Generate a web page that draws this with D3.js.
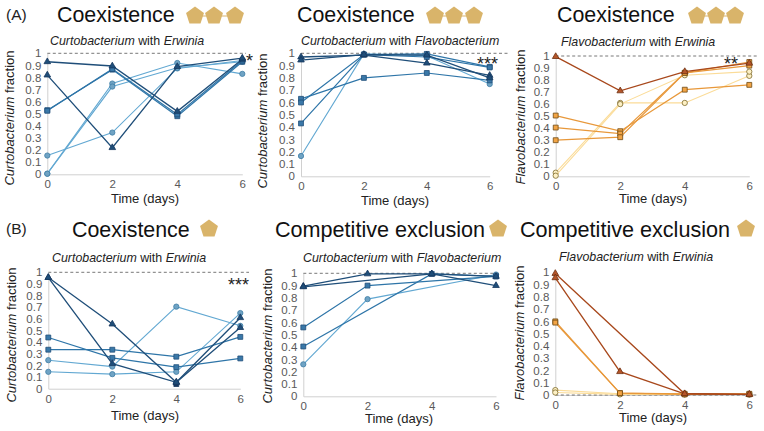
<!DOCTYPE html>
<html lang="en">
  <head>
    <meta charset="utf-8" />
    <title>Coexistence panels</title>
    <script src="https://d3js.org/d3.v7.min.js"></script>
    <style>
      body { margin: 0; background: #fff; }
      text { font-family: "Liberation Sans", Arial, sans-serif; }
      .tick text { fill: #595959; font-size: 11.5px; }
      .tick line { display: none; }
      .domain { stroke: #d0d0d0; }
    </style>
  </head>
  <body>
    <svg id="fig" width="764" height="431"></svg>
    <script>
      var days = [0, 2, 4, 6];
      var fractionTicks = [0, 0.1, 0.2, 0.3, 0.4, 0.5, 0.6, 0.7, 0.8, 0.9, 1];

      // null = no marker that day, the line just carries on to the next one
      var a1Tri1 = [0.93, 0.895, 0.52, 0.95];
      var a1Tri2 = [0.82, 0.22, 0.89, 0.96];
      var a1Sq1 = [0.53, 0.865, 0.48, 0.93];
      var a1Sq2 = [0.525, 0.87, 0.495, 0.94];
      var a1Ci1 = [0.155, 0.345, 0.875, 0.94];
      var a1Ci2 = [0.005, 0.75, 0.92, 0.83];
      var a1Ci3 = [0.005, 0.725, 0.88, 0.93];

      var a2Tri1 = [0.97, 0.985, 0.92, 0.82];
      var a2Tri2 = [0.945, 0.99, 0.985, 0.80];
      var a2Sq1 = [0.63, 0.80, 0.84, 0.78];
      var a2Sq2 = [0.60, 0.99, 0.995, 0.89];
      var a2Sq3 = [0.43, 0.99, 0.97, 0.885];
      var a2Ci1 = [0.165, 0.995, 0.98, 0.75];

      var a3Tri1 = [0.995, 0.71, 0.87, 0.94];
      var a3Sq1 = [0.505, 0.375, 0.72, 0.76];
      var a3Sq2 = [0.405, 0.355, 0.86, 0.95];
      var a3Sq3 = [0.30, 0.325, 0.86, 0.92];
      var a3Ci1 = [0.03, 0.61, 0.61, 0.835];
      var a3Ci2 = [0.005, 0.60, 0.84, 0.87];

      var b1Tri1 = [0.955, 0.555, 0.055, 0.61];
      var b1Tri2 = [0.955, 0.215, 0.055, 0.525];
      var b1Sq1 = [0.44, 0.265, 0.185, 0.26];
      var b1Sq2 = [0.335, 0.335, 0.275, 0.445];
      var b1Sq3 = [null, null, 0.04, null];
      var b1Ci1 = [0.245, 0.19, 0.705, 0.54];
      var b1Ci2 = [0.145, 0.125, 0.145, 0.65];

      var b2Tri1 = [0.895, 0.995, 0.995, 0.90];
      var b2Tri2 = [0.89, null, 0.995, 0.975];
      var b2Sq1 = [0.56, 0.90, null, 0.975];
      var b2Sq2 = [0.405, null, 0.995, 0.975];
      var b2Ci1 = [0.26, 0.79, null, 0.99];

      var b3Tri1 = [0.99, null, 0.01, 0.005];
      var b3Tri2 = [0.955, 0.19, 0.01, 0.005];
      var b3Sq1 = [0.60, 0.015, 0.01, 0.01];
      var b3Sq2 = [0.59, 0.015, 0.005, 0.005];
      var b3Ci1 = [0.04, 0.01, 0.005, 0.005];
      var b3Ci2 = [0.02, 0.005, 0.005, 0.005];

      var blue = {
        tri: { line: "#1f4e79", fill: "#1f4e79", stroke: "#17375e", lw: 1.3 },
        sq: { line: "#2e75a8", fill: "#3a78a8", stroke: "#1f4e79", lw: 1.2 },
        sqDark: { line: "#1f4e79", fill: "#17375e", stroke: "#17375e", lw: 1.2 },
        ci: { line: "#62a8d2", fill: "#6fa3c4", stroke: "#3f7ea6", lw: 1.1 }
      };
      var orange = {
        tri: { line: "#a8481c", fill: "#b5562a", stroke: "#6e3010", lw: 1.3 },
        sq: { line: "#e8983a", fill: "#f2a445", stroke: "#6e4a14", lw: 1.2 },
        ci: { line: "#fbdc98", fill: "#fdf0c4", stroke: "#7d6a2c", lw: 1.1 }
      };

      var panels = [
        { title: "Coexistence", titleX: 57, titleY: 22, subX: 50, subY: 45, sub: ["Curtobacterium", " with ", "Erwinia"], yLabel: "Curtobacterium", yLabelX: 14, yLabelY: 118,
          x: [47.3, 242.3], y: [174.3, 53.3], pal: blue, xLabelX: 145, xLabelY: 203, dashEnd: 246, star: "*", starX: 253, starY: 67, pent: [[195, 16], [214, 16], [235, 16]],
          series: [["ci", a1Ci1], ["ci", a1Ci2], ["ci", a1Ci3], ["sq", a1Sq1], ["sq", a1Sq2], ["tri", a1Tri1], ["tri", a1Tri2]] },
        { title: "Coexistence", titleX: 297, titleY: 22, subX: 301, subY: 45, sub: ["Curtobacterium", " with ", "Flavobacterium"], yLabel: "Curtobacterium", yLabelX: 267, yLabelY: 121,
          x: [301, 489.7], y: [176.3, 53.3], pal: blue, xLabelX: 395, xLabelY: 205, dashEnd: 510, star: "***", starX: 498, starY: 70, pent: [[435, 16], [454, 16], [474, 16]],
          series: [["ci", a2Ci1], ["sq", a2Sq1], ["sq", a2Sq2], ["sq", a2Sq3], ["tri", a2Tri1], ["tri", a2Tri2]] },
        { title: "Coexistence", titleX: 557, titleY: 22, subX: 561, subY: 46, sub: ["Flavobacterium", " with ", "Erwinia"], yLabel: "Flavobacterium", yLabelX: 525, yLabelY: 117,
          x: [555.7, 749.3], y: [176.3, 56], pal: orange, xLabelX: 653, xLabelY: 203, dashEnd: 757, star: "**", starX: 738, starY: 70, pent: [[697, 16], [716, 16], [735, 16]],
          series: [["ci", a3Ci1], ["ci", a3Ci2], ["sq", a3Sq1], ["sq", a3Sq2], ["sq", a3Sq3], ["tri", a3Tri1]] },
        { title: "Coexistence", titleX: 72, titleY: 237, subX: 52, subY: 262, sub: ["Curtobacterium", " with ", "Erwinia"], yLabel: "Curtobacterium", yLabelX: 16, yLabelY: 335,
          x: [48.3, 240.3], y: [388.7, 272.3], pal: blue, xLabelX: 145, xLabelY: 420, dashEnd: 249, star: "***", starX: 249, starY: 291, pent: [[209, 229]],
          series: [["ci", b1Ci1], ["ci", b1Ci2], ["sq", b1Sq1], ["sq", b1Sq2], ["sqDark", b1Sq3], ["tri", b1Tri1], ["tri", b1Tri2]] },
        { title: "Competitive exclusion", titleX: 275, titleY: 237, subX: 303, subY: 262, sub: ["Curtobacterium", " with ", "Flavobacterium"], yLabel: "Curtobacterium", yLabelX: 272, yLabelY: 336,
          x: [303.3, 496], y: [396.3, 273.3], pal: blue, xLabelX: 399, xLabelY: 423, dashEnd: 500, star: "", pent: [[498, 229]],
          series: [["ci", b2Ci1], ["sq", b2Sq1], ["sq", b2Sq2], ["tri", b2Tri1], ["tri", b2Tri2]] },
        { title: "Competitive exclusion", titleX: 520, titleY: 237, subX: 559, subY: 261, sub: ["Flavobacterium", " with ", "Erwinia"], yLabel: "Flavobacterium", yLabelX: 524, yLabelY: 333,
          x: [555.3, 749.3], y: [395, 272.3], pal: orange, xLabelX: 653, xLabelY: 422, dashEnd: 757, dashAtZero: true, star: "", pent: [[746, 229]],
          series: [["ci", b3Ci1], ["ci", b3Ci2], ["sq", b3Sq1], ["sq", b3Sq2], ["tri", b3Tri1], ["tri", b3Tri2]] }
      ];

      var svg = d3.select("#fig");

      svg.append("text").attr("x", 6).attr("y", 20).attr("font-size", 15.5).attr("fill", "#222").text("(A)");
      svg.append("text").attr("x", 6).attr("y", 234).attr("font-size", 15.5).attr("fill", "#222").text("(B)");

      var shapes = {
        tri: d3.symbol().type(d3.symbolTriangle).size(19),
        sq: d3.symbol().type(d3.symbolSquare).size(24),
        sqDark: d3.symbol().type(d3.symbolSquare).size(24),
        ci: d3.symbol().type(d3.symbolCircle).size(22)
      };

      var pentagon = d3.line().curve(d3.curveLinearClosed);
      function pentPoints(cx, cy, r) {
        return d3.range(5).map(function(i) {
          var a = -Math.PI / 2 + i * 2 * Math.PI / 5;
          return [cx + r * Math.cos(a), cy + r * Math.sin(a)];
        });
      }

      panels.forEach(function(p) {
        var xScale = d3.scaleLinear().domain([0, 6]).range(p.x);
        var yScale = d3.scaleLinear().domain([0, 1]).range(p.y);
        var g = svg.append("g");

        // title and community icon
        g.append("text").attr("x", p.titleX).attr("y", p.titleY)
          .attr("font-size", p.title === "Coexistence" ? 21.4 : 21.6).attr("fill", "#111").text(p.title);
        if (p.pent.length > 1) {
          g.append("line")
            .attr("x1", p.pent[0][0]).attr("x2", p.pent[2][0])
            .attr("y1", p.pent[0][1]).attr("y2", p.pent[0][1])
            .attr("stroke", "#d9b46a").attr("stroke-width", 1.2);
        }
        p.pent.forEach(function(c) {
          g.append("path").attr("d", pentagon(pentPoints(c[0], c[1], 9.4))).attr("fill", "#d9b46a");
        });

        // subtitle, species names in italics
        var sub = g.append("text").attr("x", p.subX).attr("y", p.subY).attr("font-size", 12.4).attr("fill", "#222");
        p.sub.forEach(function(s, i) {
          sub.append("tspan").attr("font-style", i === 1 ? "normal" : "italic").attr("xml:space", "preserve").text(s);
        });

        // axes
        g.append("g").attr("transform", "translate(" + p.x[0] + ",0)")
          .call(d3.axisLeft(yScale).tickValues(fractionTicks).tickFormat(d3.format("~g")).tickSize(0).tickPadding(6));
        g.append("g").attr("transform", "translate(0," + p.y[0] + ")")
          .call(d3.axisBottom(xScale).tickValues(days).tickFormat(d3.format("d")).tickSize(0).tickPadding(6));

        g.append("text").attr("x", p.xLabelX).attr("y", p.xLabelY)
          .attr("text-anchor", "middle").attr("font-size", 13).attr("fill", "#222").text("Time (days)");

        var yl = g.append("text")
          .attr("transform", "translate(" + p.yLabelX + "," + p.yLabelY + ") rotate(-90)")
          .attr("text-anchor", "middle").attr("font-size", 13).attr("fill", "#222");
        yl.append("tspan").attr("font-style", "italic").text(p.yLabel);
        yl.append("tspan").text(" fraction");

        // dashed reference line
        var refY = p.dashAtZero ? yScale(0) : yScale(1);
        g.append("line").attr("x1", p.x[0]).attr("x2", p.dashEnd).attr("y1", refY).attr("y2", refY)
          .attr("stroke", "#555").attr("stroke-width", 0.8).attr("stroke-dasharray", "3,2.5");

        // series lines then markers
        var line = d3.line()
          .x(function(d) { return xScale(d[0]); })
          .y(function(d) { return yScale(d[1]); });

        p.series.forEach(function(s) {
          var style = p.pal[s[0]];
          var pts = days.map(function(d, i) { return [d, s[1][i]]; })
            .filter(function(d) { return d[1] !== null; });
          g.append("path").attr("d", line(pts)).attr("fill", "none")
            .attr("stroke", style.line).attr("stroke-width", style.lw);
          g.selectAll(null).data(pts).enter().append("path")
            .attr("d", shapes[s[0]]())
            .attr("transform", function(d) { return "translate(" + xScale(d[0]) + "," + yScale(d[1]) + ")"; })
            .attr("fill", style.fill).attr("stroke", style.stroke).attr("stroke-width", 0.8);
        });

        if (p.star) {
          g.append("text").attr("x", p.starX).attr("y", p.starY).attr("text-anchor", "end")
            .attr("font-size", 18).attr("fill", "#222").text(p.star);
        }
      });
    </script>
  </body>
</html>
